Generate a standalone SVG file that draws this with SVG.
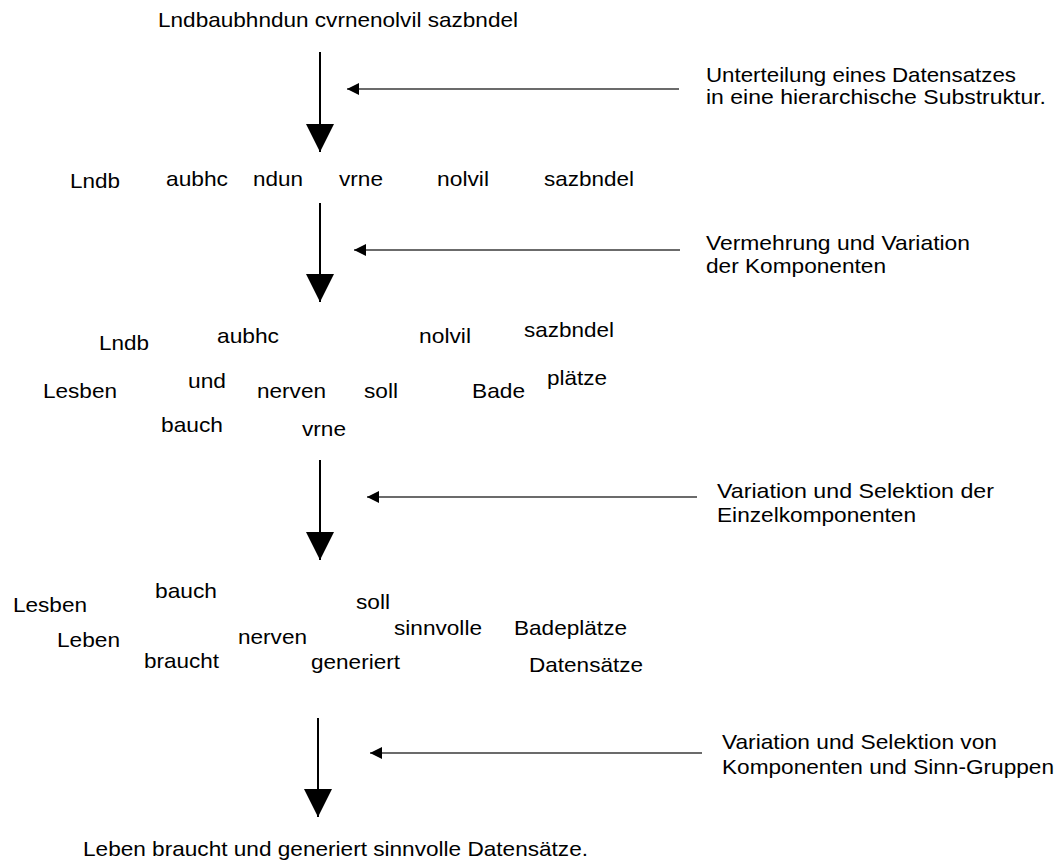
<svg xmlns="http://www.w3.org/2000/svg" width="1057" height="861" viewBox="0 0 1057 861">
  <style>
    text { font-family: "Liberation Sans", Arial, sans-serif; font-size: 21px; fill: #000; }
    .flow { stroke: #000; stroke-width: 2; fill: none; }
    .hint { stroke: #6b6b6b; stroke-width: 2; fill: none; }
  </style>
  <defs>
    <marker id="bigHead" viewBox="0 0 28 28" refX="28" refY="14" markerWidth="28" markerHeight="28" markerUnits="userSpaceOnUse" orient="auto">
      <path d="M0,0 L28,14 L0,28 Z" fill="#000"/>
    </marker>
    <marker id="smallHead" viewBox="0 0 12 12" refX="12" refY="6" markerWidth="12" markerHeight="12" markerUnits="userSpaceOnUse" orient="auto">
      <path d="M0,0 L12,6 L0,12 Z" fill="#000"/>
    </marker>
  </defs>

  <rect width="1057" height="861" fill="#fff"/>

  <!-- stage 1: the whole record -->
  <g id="stage1">
    <text x="158" y="27" textLength="360" lengthAdjust="spacingAndGlyphs">Lndbaubhndun cvrnenolvil sazbndel</text>
  </g>

  <!-- stage 2: split into parts -->
  <g id="stage2">
    <text x="70" y="188" textLength="50" lengthAdjust="spacingAndGlyphs">Lndb</text>
    <text x="166" y="186" textLength="62" lengthAdjust="spacingAndGlyphs">aubhc</text>
    <text x="253" y="186" textLength="50" lengthAdjust="spacingAndGlyphs">ndun</text>
    <text x="339" y="186" textLength="44" lengthAdjust="spacingAndGlyphs">vrne</text>
    <text x="437" y="186" textLength="52" lengthAdjust="spacingAndGlyphs">nolvil</text>
    <text x="544" y="186" textLength="90" lengthAdjust="spacingAndGlyphs">sazbndel</text>
  </g>

  <!-- stage 3: multiplied and varied parts -->
  <g id="stage3">
    <text x="99" y="350" textLength="50" lengthAdjust="spacingAndGlyphs">Lndb</text>
    <text x="217" y="343" textLength="62" lengthAdjust="spacingAndGlyphs">aubhc</text>
    <text x="419" y="343" textLength="52" lengthAdjust="spacingAndGlyphs">nolvil</text>
    <text x="524" y="337" textLength="90" lengthAdjust="spacingAndGlyphs">sazbndel</text>
    <text x="43" y="398" textLength="74" lengthAdjust="spacingAndGlyphs">Lesben</text>
    <text x="188" y="388" textLength="38" lengthAdjust="spacingAndGlyphs">und</text>
    <text x="257" y="398" textLength="69" lengthAdjust="spacingAndGlyphs">nerven</text>
    <text x="364" y="398" textLength="34" lengthAdjust="spacingAndGlyphs">soll</text>
    <text x="472" y="398" textLength="53" lengthAdjust="spacingAndGlyphs">Bade</text>
    <text x="547" y="385" textLength="60" lengthAdjust="spacingAndGlyphs">plätze</text>
    <text x="161" y="432" textLength="62" lengthAdjust="spacingAndGlyphs">bauch</text>
    <text x="302" y="436" textLength="44" lengthAdjust="spacingAndGlyphs">vrne</text>
  </g>

  <!-- stage 4: selected single components -->
  <g id="stage4">
    <text x="13" y="612" textLength="74" lengthAdjust="spacingAndGlyphs">Lesben</text>
    <text x="155" y="598" textLength="62" lengthAdjust="spacingAndGlyphs">bauch</text>
    <text x="356" y="609" textLength="34" lengthAdjust="spacingAndGlyphs">soll</text>
    <text x="57" y="647" textLength="63" lengthAdjust="spacingAndGlyphs">Leben</text>
    <text x="238" y="644" textLength="69" lengthAdjust="spacingAndGlyphs">nerven</text>
    <text x="394" y="635" textLength="88" lengthAdjust="spacingAndGlyphs">sinnvolle</text>
    <text x="514" y="635" textLength="113" lengthAdjust="spacingAndGlyphs">Badeplätze</text>
    <text x="144" y="668" textLength="75" lengthAdjust="spacingAndGlyphs">braucht</text>
    <text x="311" y="669" textLength="89" lengthAdjust="spacingAndGlyphs">generiert</text>
    <text x="529" y="672" textLength="114" lengthAdjust="spacingAndGlyphs">Datensätze</text>
  </g>

  <!-- stage 5: meaningful sentence -->
  <g id="stage5">
    <text x="83" y="856" textLength="505" lengthAdjust="spacingAndGlyphs">Leben braucht und generiert sinnvolle Datensätze.</text>
  </g>

  <!-- step descriptions -->
  <g id="note1">
    <text x="706" y="82" textLength="310" lengthAdjust="spacingAndGlyphs">Unterteilung eines Datensatzes</text>
    <text x="706" y="104" textLength="340" lengthAdjust="spacingAndGlyphs">in eine hierarchische Substruktur.</text>
  </g>
  <g id="note2">
    <text x="706" y="250" textLength="264" lengthAdjust="spacingAndGlyphs">Vermehrung und Variation</text>
    <text x="706" y="273" textLength="180" lengthAdjust="spacingAndGlyphs">der Komponenten</text>
  </g>
  <g id="note3">
    <text x="717" y="498" textLength="277" lengthAdjust="spacingAndGlyphs">Variation und Selektion der</text>
    <text x="717" y="522" textLength="199" lengthAdjust="spacingAndGlyphs">Einzelkomponenten</text>
  </g>
  <g id="note4">
    <text x="722" y="749" textLength="275" lengthAdjust="spacingAndGlyphs">Variation und Selektion von</text>
    <text x="722" y="774" textLength="332" lengthAdjust="spacingAndGlyphs">Komponenten und Sinn-Gruppen</text>
  </g>

  <!-- connectors -->
  <g id="connectors">
    <line class="flow" x1="320" y1="52" x2="320" y2="152" marker-end="url(#bigHead)"/>
    <line class="flow" x1="320" y1="203" x2="320" y2="302" marker-end="url(#bigHead)"/>
    <line class="flow" x1="320" y1="460" x2="320" y2="560" marker-end="url(#bigHead)"/>
    <line class="flow" x1="318" y1="718" x2="318" y2="817" marker-end="url(#bigHead)"/>

    <line class="hint" x1="679" y1="89" x2="347" y2="89" marker-end="url(#smallHead)"/>
    <line class="hint" x1="680" y1="250" x2="354" y2="250" marker-end="url(#smallHead)"/>
    <line class="hint" x1="697" y1="497" x2="367" y2="497" marker-end="url(#smallHead)"/>
    <line class="hint" x1="702" y1="753" x2="370" y2="753" marker-end="url(#smallHead)"/>
  </g>
</svg>
